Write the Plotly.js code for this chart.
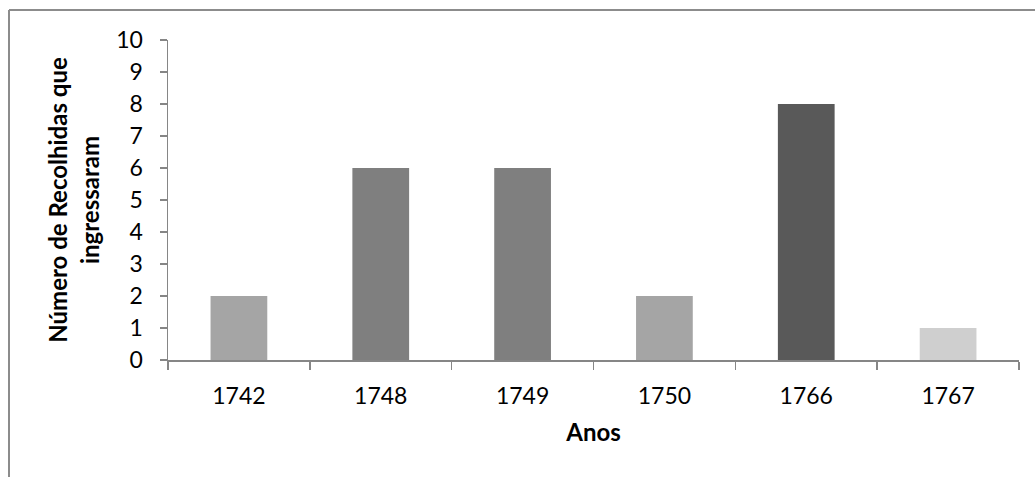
<!DOCTYPE html>
<html>
<head>
<meta charset="utf-8">
<script src="https://cdn.plot.ly/plotly-3.0.1.min.js"></script>
<style>html,body{margin:0;padding:0;background:#fff;}#chart{width:1035px;height:477px;}</style>
</head>
<body>
<div id="chart"></div>
<script>
const years = ["1742", "1748", "1749", "1750", "1766", "1767"];
const counts = [2, 6, 6, 2, 8, 1];
const barColors = ["#a5a5a5", "#7f7f7f", "#7f7f7f", "#a5a5a5", "#595959", "#cfcfcf"];
const yTitle = "Número de Recolhidas que<br>ingressaram";
const xTitle = "Anos";

const fontFam = "Lato, 'Open Sans', sans-serif";
const axisCol = "#868686";

// plot area in pixels: l=168, r=16, t=40, b=117
const L = 168, R = 16, T = 40, B = 117, W = 1035, H = 477;
const pw = W - L - R, ph = H - T - B;
const px = x => (x - L) / pw;
const py = y => (H - B - y) / ph;

const data = [{
  type: "bar",
  x: years,
  y: counts,
  marker: {color: barColors, line: {width: 0}},
  hoverinfo: "x+y"
}];

const layout = {
  width: W, height: H,
  margin: {l: L, r: R, t: T, b: B},
  paper_bgcolor: "#ffffff",
  plot_bgcolor: "#ffffff",
  showlegend: false,
  bargap: 0.6,
  font: {family: fontFam, size: 23, color: "#000"},
  xaxis: {
    type: "category",
    showgrid: false,
    zeroline: false,
    showline: true,
    linecolor: axisCol,
    linewidth: 1.5,
    ticks: "outside",
    tickson: "boundaries",
    ticklen: 8,
    tickwidth: 1.5,
    tickcolor: axisCol,
    ticklabelstandoff: 15,
    tickfont: {family: fontFam, size: 23, color: "#000"},
    title: {text: xTitle, font: {family: fontFam, size: 24, color: "#000", weight: "bold"}, standoff: 16}
  },
  yaxis: {
    range: [0, 10],
    dtick: 1,
    tick0: 0,
    showgrid: false,
    zeroline: false,
    showline: true,
    linecolor: axisCol,
    linewidth: 1.5,
    ticks: "outside",
    ticklen: 7,
    tickwidth: 1.5,
    tickcolor: axisCol,
    ticklabelstandoff: 12,
    tickfont: {family: fontFam, size: 23, color: "#000"},
    title: {text: yTitle, font: {family: fontFam, size: 24, color: "#000", weight: "bold"}, standoff: 10}
  },
  shapes: [
    {type: "line", xref: "paper", yref: "paper", x0: px(9), x1: px(1040), y0: py(10), y1: py(10), line: {color: "#8c8c8c", width: 2}},
    {type: "line", xref: "paper", yref: "paper", x0: px(9), x1: px(9), y0: py(10), y1: py(490), line: {color: "#8c8c8c", width: 2}}
  ]
};

Plotly.newPlot("chart", data, layout, {displayModeBar: false, staticPlot: true});
</script>
</body>
</html>
